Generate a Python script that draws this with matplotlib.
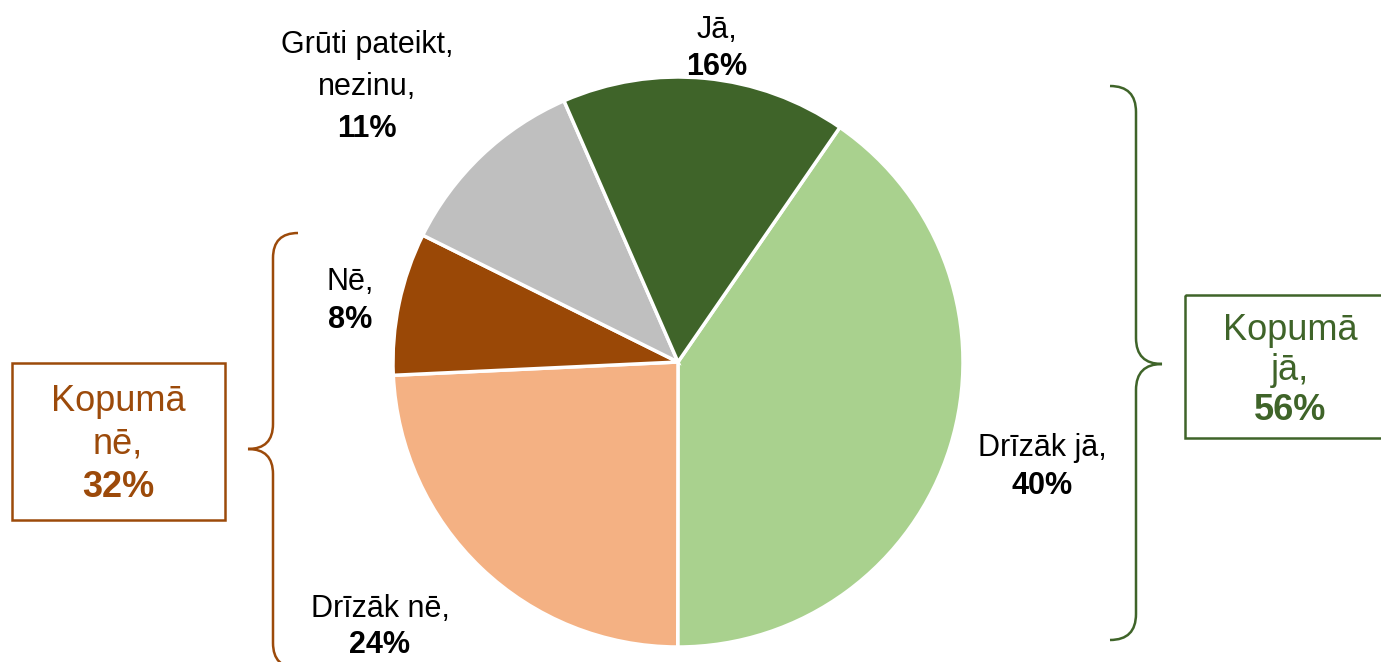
import matplotlib.pyplot as plt
from matplotlib.path import Path
from matplotlib.patches import PathPatch, Rectangle

plt.rcParams['font.family'] = ['Liberation Sans', 'DejaVu Sans']

# data (clockwise, starting from the "Drīzāk jā" wedge)
labels = ['Drīzāk jā', 'Drīzāk nē', 'Nē', 'Grūti pateikt,\nnezinu', 'Jā']
values = [40, 24, 8, 11, 16]
colors = ['#A9D18E', '#F4B183', '#9A4806', '#BFBFBF', '#3F6429']
total_labels = ['Kopumā\njā', 'Kopumā\nnē']
total_values = [56, 32]

GREEN = '#3F6429'
BROWN = '#9C4A0A'

W, H = 1381, 662
fig = plt.figure(figsize=(W / 100, H / 100), dpi=100)

# overlay axes in pixel coordinates for labels, braces and boxes
ov = fig.add_axes([0, 0, 1, 1])
ov.set_xlim(0, W)
ov.set_ylim(H, 0)
ov.axis('off')

# pie: centre (678, 362), radius 285 px
cx, cy, r = 678, 362, 285
pax = fig.add_axes([(cx - r) / W, (H - cy - r) / H, 2 * r / W, 2 * r / H])
pax.pie(values, colors=colors, startangle=55.4, counterclock=False,
        wedgeprops=dict(edgecolor='white', linewidth=2.5))
pax.set_aspect('equal')
pax.set_xlim(-1, 1)
pax.set_ylim(-1, 1)

# slice labels: (x centre, first baseline, line step)
label_pos = [(1042, 456, 38), (380, 617, 36), (350, 290, 38),
             (367, 53, 42), (717, 38, 37)]
fs = 22
for lab, val, (x, y0, step) in zip(labels, values, label_pos):
    lines = (lab + ',').split('\n')
    for i, ln in enumerate(lines):
        ov.text(x, y0 + i * step, ln, ha='center', va='baseline',
                fontsize=fs, color='black')
    ov.text(x, y0 + len(lines) * step, f'{val}%', ha='center', va='baseline',
            fontsize=fs, fontweight='bold', color='black')


def brace(x0, xv, xt, y_top, y_tip, y_bot, color):
    d = xv - x0
    dy = abs(d)
    verts = [(x0, y_top), (xv, y_top), (xv, y_top + dy),
             (xv, y_tip - dy), (xv, y_tip), (xt, y_tip),
             (xv, y_tip), (xv, y_tip + dy),
             (xv, y_bot - dy), (xv, y_bot), (x0, y_bot)]
    codes = [Path.MOVETO, Path.CURVE3, Path.CURVE3,
             Path.LINETO, Path.CURVE3, Path.CURVE3,
             Path.CURVE3, Path.CURVE3,
             Path.LINETO, Path.CURVE3, Path.CURVE3]
    ov.add_patch(PathPatch(Path(verts, codes), fill=False,
                           edgecolor=color, linewidth=1.8))


brace(1110, 1136, 1162, 86, 364, 640, GREEN)
brace(298, 273, 248, 233, 449, 668, BROWN)

# summary boxes
ov.add_patch(Rectangle((1185, 295), 210, 143, fill=False,
                       edgecolor=GREEN, linewidth=1.8))
ov.add_patch(Rectangle((12, 363), 213, 157, fill=False,
                       edgecolor=BROWN, linewidth=1.8))

box_pos = [(1290, 340, 40, GREEN), (118, 411, 43, BROWN)]
bfs = 26
for lab, val, (x, y0, step, col) in zip(total_labels, total_values, box_pos):
    lines = (lab + ',').split('\n')
    for i, ln in enumerate(lines):
        ov.text(x, y0 + i * step, ln, ha='center', va='baseline',
                fontsize=bfs, color=col)
    ov.text(x, y0 + len(lines) * step, f'{val}%', ha='center', va='baseline',
            fontsize=bfs, fontweight='bold', color=col)

fig.savefig('out.png', dpi=100)
